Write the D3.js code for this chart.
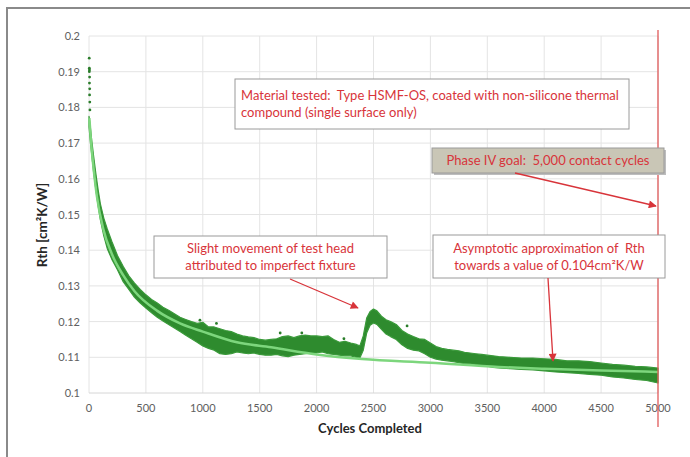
<!DOCTYPE html>
<html>
<head>
<meta charset="utf-8">
<script src="https://cdn.jsdelivr.net/npm/d3@7"></script>
<style>
body { margin: 0; background: #fff; }
text { font-family: Lato, "Open Sans", sans-serif; white-space: pre; }
</style>
</head>
<body>
<div id="chart"></div>
<script>
// measured band of the scatter (cycles, lower and upper Rth)
var cycles = [0, 10, 25, 40, 60, 80, 100, 130, 160, 200, 250, 300, 350, 400, 450, 500, 550, 600, 650, 700,
    750, 800, 850, 900, 950, 1000, 1050, 1100, 1150, 1200, 1250, 1300, 1350, 1400, 1450, 1500, 1550, 1600,
    1650, 1700, 1750, 1800, 1850, 1900, 1950, 2000, 2050, 2100, 2150, 2200, 2250, 2300, 2350, 2380, 2410,
    2440, 2470, 2500, 2530, 2570, 2610, 2650, 2700, 2750, 2800, 2850, 2900, 2950, 3000, 3050, 3100, 3150,
    3200, 3250, 3300, 3350, 3400, 3450, 3500, 3550, 3600, 3700, 3800, 3900, 4000, 4100, 4200, 4300, 4400,
    4500, 4600, 4700, 4800, 4900, 5000];
var lowRth = [0.1745, 0.171, 0.1665, 0.162, 0.157, 0.1525, 0.1485, 0.144, 0.1405, 0.1375, 0.1345, 0.1312, 0.129,
    0.1268, 0.1252, 0.1238, 0.1225, 0.1212, 0.1202, 0.1192, 0.1182, 0.1172, 0.1162, 0.1152, 0.1142, 0.1132, 0.1125, 0.112,
    0.111, 0.1108, 0.111, 0.1115, 0.1112, 0.111, 0.1112, 0.1108, 0.1106, 0.1106, 0.1108, 0.1104, 0.1102, 0.1106,
    0.1108, 0.111, 0.1112, 0.1112, 0.1115, 0.111, 0.1108, 0.1106, 0.1104, 0.1104, 0.11, 0.1098, 0.112, 0.1168,
    0.119, 0.1196, 0.1192, 0.1178, 0.1165, 0.1158, 0.115, 0.1135, 0.1125, 0.112, 0.1118, 0.111, 0.11, 0.1095,
    0.1092, 0.109, 0.1088, 0.1085, 0.1082, 0.1082, 0.108, 0.1076, 0.1075, 0.1072, 0.107, 0.1068, 0.1066, 0.1065,
    0.1062, 0.1059, 0.1057, 0.1055, 0.1052, 0.105, 0.1045, 0.1042, 0.1038, 0.1035, 0.1028];
var highRth = [0.1775, 0.175, 0.1705, 0.1665, 0.1615, 0.157, 0.153, 0.149, 0.146, 0.1425, 0.1385, 0.1355, 0.1328,
    0.1308, 0.129, 0.1275, 0.1262, 0.1252, 0.124, 0.1232, 0.1222, 0.1212, 0.1206, 0.12, 0.1195, 0.1198, 0.1185,
    0.1185, 0.118, 0.1175, 0.1172, 0.1165, 0.116, 0.1157, 0.1155, 0.115, 0.1148, 0.115, 0.1152, 0.1158, 0.116,
    0.1155, 0.116, 0.1162, 0.116, 0.116, 0.1158, 0.116, 0.115, 0.1142, 0.1145, 0.114, 0.1136, 0.1132, 0.116,
    0.121, 0.1228, 0.1235, 0.123, 0.1215, 0.1205, 0.12, 0.1192, 0.1175, 0.1165, 0.1158, 0.1152, 0.115, 0.114,
    0.113, 0.1125, 0.1122, 0.112, 0.1118, 0.1114, 0.1112, 0.111, 0.1108, 0.1106, 0.1104, 0.1102, 0.11, 0.1098,
    0.1098, 0.1096, 0.1094, 0.109, 0.109, 0.1088, 0.1084, 0.108, 0.1078, 0.1075, 0.1073, 0.107];

// early scattered readings near the start and a few strays
var strayCycles = [2, 3, 4, 3, 5, 4, 6, 5, 7, 8, 975, 1680, 2795, 2240, 1120, 1870];
var strayRth = [0.1938, 0.191, 0.1905, 0.19, 0.1885, 0.1868, 0.1852, 0.1835, 0.1815, 0.1793, 0.1204, 0.1168,
    0.1188, 0.1152, 0.1195, 0.1168];

// light green trend line
var fitCycles = [3, 20, 40, 70, 125, 200, 300, 400, 600, 800, 1000, 1300, 1600, 2000, 2400, 3000, 3600, 4000, 4500, 5000];
var fitRth = [0.177, 0.1695, 0.163, 0.155, 0.146, 0.139, 0.133, 0.1285, 0.123, 0.1195, 0.1172, 0.1142, 0.1128,
    0.1108, 0.1095, 0.1085, 0.1073, 0.1068, 0.1063, 0.1059];

var xTicks = [0, 500, 1000, 1500, 2000, 2500, 3000, 3500, 4000, 4500, 5000];
var yTicks = [0.1, 0.11, 0.12, 0.13, 0.14, 0.15, 0.16, 0.17, 0.18, 0.19, 0.2];
var goalCycles = 5000;

var svg = d3.select("#chart")
    .append("svg")
    .attr("width", 690)
    .attr("height", 457);

var x = d3.scaleLinear().domain([0, 5000]).range([89, 658]),
    y = d3.scaleLinear().domain([0.1, 0.2]).range([393, 36]);

var red = "#d8343a";

var defs = svg.append("defs");
defs.append("marker")
    .attr("id", "arrow")
    .attr("viewBox", "0 0 10 10")
    .attr("refX", 9)
    .attr("refY", 5)
    .attr("markerWidth", 9)
    .attr("markerHeight", 8)
    .attr("markerUnits", "userSpaceOnUse")
    .attr("orient", "auto")
    .append("path")
    .attr("d", "M0,0L10,5L0,10z")
    .attr("fill", red);

// frame
svg.append("path")
    .attr("d", "M7,457V8H690")
    .attr("fill", "none")
    .attr("stroke", "#8a8a8a")
    .attr("stroke-width", 2);

// grid
svg.append("g").selectAll("line.v")
    .data(xTicks)
    .enter().append("line")
    .attr("x1", function (d) { return x(d); })
    .attr("x2", function (d) { return x(d); })
    .attr("y1", y(0.2))
    .attr("y2", y(0.1))
    .attr("stroke", "#e4e4e4");

svg.append("g").selectAll("line.h")
    .data(yTicks)
    .enter().append("line")
    .attr("x1", x(0))
    .attr("x2", x(5000))
    .attr("y1", function (d) { return y(d); })
    .attr("y2", function (d) { return y(d); })
    .attr("stroke", function (d) { return d === 0.1 ? "#d6d6d6" : "#e4e4e4"; });

// tick labels
svg.append("g").selectAll("text")
    .data(yTicks)
    .enter().append("text")
    .attr("x", 80)
    .attr("y", function (d) { return y(d) + 4; })
    .attr("text-anchor", "end")
    .attr("font-size", 11)
    .attr("fill", "#606060")
    .text(function (d) { return d3.format("")(+d.toFixed(2)); });

svg.append("g").selectAll("text")
    .data(xTicks)
    .enter().append("text")
    .attr("x", function (d) { return x(d); })
    .attr("y", 412)
    .attr("text-anchor", "middle")
    .attr("font-size", 11)
    .attr("fill", "#606060")
    .text(function (d) { return d; });

svg.append("text")
    .attr("x", 370)
    .attr("y", 433)
    .attr("text-anchor", "middle")
    .attr("font-size", 13)
    .attr("font-weight", "bold")
    .attr("fill", "#262626")
    .text("Cycles Completed");

svg.append("text")
    .attr("transform", "translate(47,225) rotate(-90)")
    .attr("text-anchor", "middle")
    .attr("font-size", 13.5)
    .attr("font-weight", "bold")
    .attr("fill", "#262626")
    .text("Rth [cm²K/W]");

// scatter band
var band = cycles.map(function (c, i) { return {c: c, lo: lowRth[i], hi: highRth[i]}; });
var area = d3.area()
    .x(function (d) { return x(d.c); })
    .y0(function (d) { return y(d.lo); })
    .y1(function (d) { return y(d.hi); });

svg.append("path")
    .datum(band)
    .attr("d", area)
    .attr("fill", "#2e8b2e")
    .attr("stroke", "#3a9a3a")
    .attr("stroke-width", 1.2)
    .attr("stroke-linejoin", "round");

svg.append("g").selectAll("circle")
    .data(strayCycles)
    .enter().append("circle")
    .attr("cx", function (d) { return x(d); })
    .attr("cy", function (d, i) { return y(strayRth[i]); })
    .attr("r", 1.4)
    .attr("fill", "#2a7d2a");

// trend line
var fit = fitCycles.map(function (c, i) { return [c, fitRth[i]]; });
svg.append("path")
    .datum(fit)
    .attr("d", d3.line()
        .x(function (d) { return x(d[0]); })
        .y(function (d) { return y(d[1]); })
        .curve(d3.curveMonotoneX))
    .attr("fill", "none")
    .attr("stroke", "#7dd67d")
    .attr("stroke-width", 2.5);

// goal line
svg.append("line")
    .attr("x1", x(goalCycles))
    .attr("x2", x(goalCycles))
    .attr("y1", 30)
    .attr("y2", 427)
    .attr("stroke", "#e05a5a")
    .attr("stroke-width", 1.3);

// annotations
function note(x0, y0, w, h, lines, fill) {
    var g = svg.append("g");
    if (fill !== "#fff") {
        g.append("rect")
            .attr("x", x0 + 2).attr("y", y0 + 2)
            .attr("width", w).attr("height", h)
            .attr("fill", "#bdbdbd");
    }
    g.append("rect")
        .attr("x", x0).attr("y", y0)
        .attr("width", w).attr("height", h)
        .attr("fill", fill)
        .attr("stroke", "#9a9a9a")
        .attr("stroke-width", 1);
    var top = y0 + h / 2 - (lines.length - 1) * 8.5;
    lines.forEach(function (t, i) {
        g.append("text")
            .attr("x", t.left ? x0 + 6 : x0 + w / 2)
            .attr("y", top + i * 17 + 4.5)
            .attr("text-anchor", t.left ? "start" : "middle")
            .attr("font-size", 13)
            .attr("fill", red)
            .text(t.s);
    });
}

function arrow(x1, y1, x2, y2) {
    svg.append("line")
        .attr("x1", x1).attr("y1", y1)
        .attr("x2", x2).attr("y2", y2)
        .attr("stroke", red)
        .attr("stroke-width", 1.3)
        .attr("marker-end", "url(#arrow)");
}

note(235, 79, 394, 50, [
    {s: "Material tested:  Type HSMF-OS, coated with non-silicone thermal", left: true},
    {s: "compound (single surface only)", left: true}
], "#fff");

note(432, 148, 232, 25, [{s: "Phase IV goal:  5,000 contact cycles"}], "#c9c6b6");
arrow(515, 173, 656, 206);

note(154, 236, 233, 42, [
    {s: "Slight movement of test head"},
    {s: "attributed to imperfect fixture"}
], "#fff");
arrow(290, 279, 358, 308);

note(433, 235, 232, 43, [
    {s: "Asymptotic approximation of  Rth"},
    {s: "towards a value of 0.104cm²K/W"}
], "#fff");
arrow(548, 278, 553, 361);
</script>
</body>
</html>
